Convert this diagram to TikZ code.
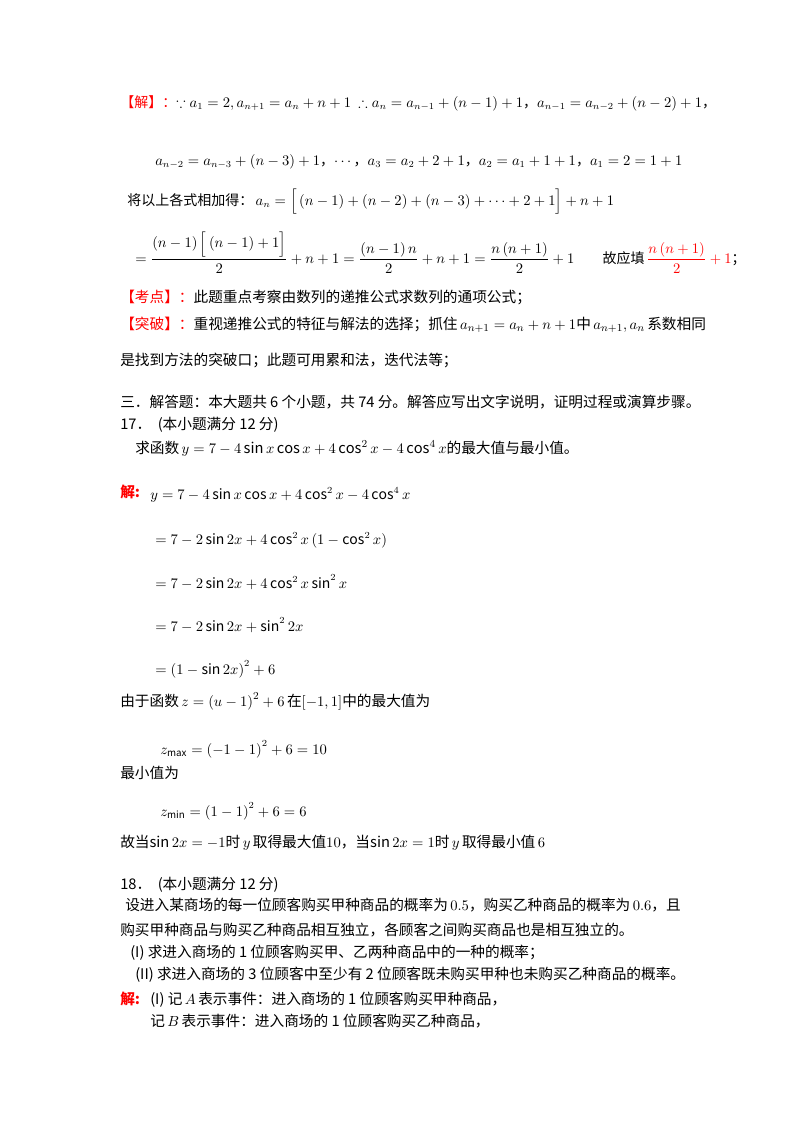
\documentclass[tikz,border=0pt]{standalone}
\usepackage{amsmath,amssymb}
\usepackage{fontspec}
\setmainfont{Noto Sans CJK SC}
\begin{document}
\begin{tikzpicture}[x=0.75pt,y=-0.75pt,
  t/.style={anchor=base west,inner sep=0pt,font=\fontsize{10.5}{12}\selectfont},
  tc/.style={anchor=base west,inner sep=0pt,font=\fontsize{11}{12}\selectfont},
  rd/.style={text=red}]
\useasboundingbox (0,0) rectangle (800,1132);
\fill[white] (0,0) rectangle (800,1132);
\node[t] (l1) at (120,107) {\textcolor{red}{【解】：}$\because a_1=2,a_{n+1}=a_n+n+1\ \therefore a_n=a_{n-1}+\left(n-1\right)+1$，$a_{n-1}=a_{n-2}+\left(n-2\right)+1$，};
\node[t] (l2) at (155,165) {$a_{n-2}=a_{n-3}+\left(n-3\right)+1$，$\cdots$，$a_3=a_2+2+1$，$a_2=a_1+1+1$，$a_1=2=1+1$};
\node[t] (l3) at (127,205) {将以上各式相加得：\,$a_n=\Big[\left(n-1\right)+\left(n-2\right)+\left(n-3\right)+\cdots+2+1\Big]+n+1$};
\node[t] (l4) at (135,263) {$\displaystyle=\frac{\left(n-1\right)\Big[\left(n-1\right)+1\Big]}{2}+n+1=\frac{\left(n-1\right)n}{2}+n+1=\frac{n\left(n+1\right)}{2}+1$\qquad 故应填\,\textcolor{red}{$\displaystyle\frac{n\left(n+1\right)}{2}+1$}；};
\node[tc] (l5) at (120,302) {\textcolor{red}{【考点】：}此题重点考察由数列的递推公式求数列的通项公式；};
\node[tc] (l6) at (120,329) {\textcolor{red}{【突破】：}重视递推公式的特征与解法的选择；抓住\,$a_{n+1}=a_n+n+1$中\,$a_{n+1},a_n$\,系数相同};
\node[tc] (l7) at (120,365) {是找到方法的突破口；此题可用累和法，迭代法等；};
\node[tc] (l8) at (120,407) {三．解答题：本大题共 6 个小题，共 74 分。解答应写出文字说明，证明过程或演算步骤。};
\node[tc] (l9) at (120,429) {17．\ \ (本小题满分 12 分)};
\node[tc] (l10) at (135,453) {求函数\,$y=7-4\sin x\cos x+4\cos^2x-4\cos^4x$的最大值与最小值。};
\node[t,rd,font=\fontsize{11}{12}\selectfont\bfseries] (l11) at (120,497) {解:};
\node[t] (l11b) at (150,499) {$y=7-4\sin x\cos x+4\cos^2x-4\cos^4x$};
\node[t] (l12) at (155,544) {$=7-2\sin2x+4\cos^2x\left(1-\cos^2x\right)$};
\node[t] (l13) at (155,588) {$=7-2\sin2x+4\cos^2x\sin^2x$};
\node[t] (l14) at (155,631) {$=7-2\sin2x+\sin^22x$};
\node[t] (l15) at (155,674) {$=\left(1-\sin2x\right)^2+6$};
\node[tc] (l16) at (120,706) {由于函数\,$z=\left(u-1\right)^2+6$\,在$\left[-1,1\right]$中的最大值为};
\node[t] (l17) at (160,754) {$z_{\mathrm{max}}=\left(-1-1\right)^2+6=10$};
\node[tc] (l18) at (120,778) {最小值为};
\node[t] (l19) at (160,816) {$z_{\mathrm{min}}=\left(1-1\right)^2+6=6$};
\node[tc] (l20) at (120,847) {故当$\sin2x=-1$时\,$y$\,取得最大值$10$，当$\sin2x=1$时\,$y$\,取得最小值\,$6$};
\node[tc] (l21) at (120,889) {18．\ \ (本小题满分 12 分)};
\node[tc] (l22) at (125,910) {设进入某商场的每一位顾客购买甲种商品的概率为\,$0.5$，购买乙种商品的概率为\,$0.6$，且};
\node[tc] (l23) at (120,935) {购买甲种商品与购买乙种商品相互独立，各顾客之间购买商品也是相互独立的。};
\node[tc] (l24) at (130,957) {(I)\ 求进入商场的 1 位顾客购买甲、乙两种商品中的一种的概率；};
\node[tc] (l25) at (135,979) {(II)\ 求进入商场的 3 位顾客中至少有 2 位顾客既未购买甲种也未购买乙种商品的概率。};
\node[t,rd,font=\fontsize{11}{12}\selectfont\bfseries] (l26) at (120,1004) {解:};
\node[tc] (l26b) at (150,1004) {(I)\ 记\,$A$\,表示事件：进入商场的 1 位顾客购买甲种商品，};
\node[tc] (l27) at (150,1026) {记\,$B$\,表示事件：进入商场的 1 位顾客购买乙种商品，};
\end{tikzpicture}
\end{document}
